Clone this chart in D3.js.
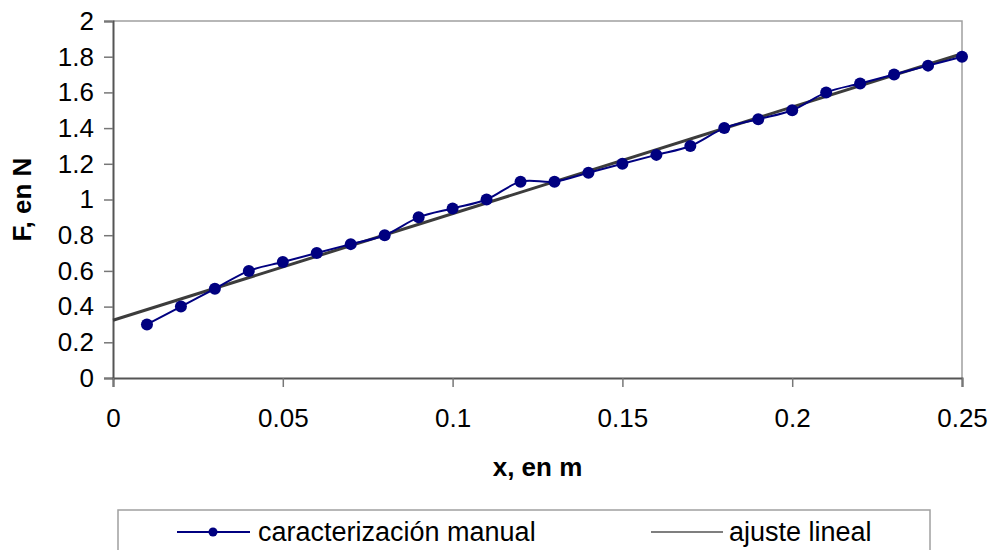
<!DOCTYPE html>
<html>
<head>
<meta charset="utf-8">
<script src="https://cdn.jsdelivr.net/npm/d3@7"></script>
<style>
  html, body { margin: 0; padding: 0; background: #fff; }
  svg { display: block; font-family: "Liberation Sans", Arial, sans-serif; }
</style>
</head>
<body>
<svg id="chart" width="992" height="550"></svg>
<script>
// Measured displacement (m) and force (N)
const xValues = [0.01, 0.02, 0.03, 0.04, 0.05, 0.06, 0.07, 0.08, 0.09, 0.10,
                 0.11, 0.12, 0.13, 0.14, 0.15, 0.16, 0.17, 0.18, 0.19, 0.20,
                 0.21, 0.22, 0.23, 0.24, 0.25];
const fValues = [0.30, 0.40, 0.50, 0.60, 0.65, 0.70, 0.75, 0.80, 0.90, 0.95,
                 1.00, 1.10, 1.10, 1.15, 1.20, 1.25, 1.30, 1.40, 1.45, 1.50,
                 1.60, 1.65, 1.70, 1.75, 1.80];
const xTicks = [0, 0.05, 0.1, 0.15, 0.2, 0.25];
const yTicks = [0, 0.2, 0.4, 0.6, 0.8, 1, 1.2, 1.4, 1.6, 1.8, 2];
const seriesNames = ["caracterización manual", "ajuste lineal"];
const xTitle = "x, en m";
const yTitle = "F, en N";

const points = xValues.map((x, i) => ({ x, y: fValues[i] }));

// Least-squares trend line over the measurements
const mx = d3.mean(xValues), my = d3.mean(fValues);
const sxy = d3.sum(points, p => (p.x - mx) * (p.y - my));
const sxx = d3.sum(points, p => (p.x - mx) ** 2);
const slope = sxy / sxx;
const intercept = my - slope * mx;
const fitX = d3.extent(xTicks);
const fitPoints = fitX.map(x => ({ x, y: intercept + slope * x }));

const plot = { left: 113, right: 962, top: 21, bottom: 378 };
const svg = d3.select("#chart");

const x = d3.scaleLinear().domain([0, 0.25]).range([plot.left, plot.right]);
const y = d3.scaleLinear().domain([0, 2]).range([plot.bottom, plot.top]);
const fmt = d => String(+d.toFixed(2));

// Plot-area frame (top and right edges)
svg.append("path")
  .attr("d", `M${plot.left},${plot.top}H${plot.right}V${plot.bottom}`)
  .attr("fill", "none").attr("stroke", "#a0a0a0").attr("stroke-width", 1.5);

// Y axis
const yAxis = svg.append("g")
  .attr("transform", `translate(${plot.left},0)`)
  .call(d3.axisLeft(y).tickValues(yTicks).tickSize(9).tickPadding(10).tickFormat(fmt));
// X axis
const xAxis = svg.append("g")
  .attr("transform", `translate(0,${plot.bottom})`)
  .call(d3.axisBottom(x).tickValues(xTicks).tickSize(9).tickPadding(22).tickFormat(fmt));

[yAxis, xAxis].forEach(g => {
  g.select(".domain").attr("stroke", "#555").attr("stroke-width", 2);
  g.selectAll(".tick line").attr("stroke", "#777").attr("stroke-width", 1.5);
  g.selectAll(".tick text")
    .attr("fill", "#000")
    .style("font-size", "26px")
    .style("font-family", "'Liberation Sans', Arial, sans-serif");
});

// Axis titles
svg.append("text")
  .attr("x", (plot.left + plot.right) / 2).attr("y", 476)
  .attr("text-anchor", "middle")
  .style("font-size", "26px").style("font-weight", "bold")
  .text(xTitle);
svg.append("text")
  .attr("transform", `translate(31,${(plot.top + plot.bottom) / 2}) rotate(-90)`)
  .attr("text-anchor", "middle")
  .style("font-size", "26px").style("font-weight", "bold")
  .text(yTitle);

// Fitted straight line
svg.append("path")
  .datum(fitPoints)
  .attr("d", d3.line().x(d => x(d.x)).y(d => y(d.y)))
  .attr("fill", "none").attr("stroke", "#3c3c3c").attr("stroke-width", 3);

// Measured series: smoothed line with markers
svg.append("path")
  .datum(points)
  .attr("d", d3.line().x(d => x(d.x)).y(d => y(d.y)).curve(d3.curveCardinal.tension(0)))
  .attr("fill", "none").attr("stroke", "#000080").attr("stroke-width", 2);
svg.append("g").selectAll("circle")
  .data(points).join("circle")
  .attr("cx", d => x(d.x)).attr("cy", d => y(d.y))
  .attr("r", 6).attr("fill", "#000080");

// Legend
const legend = svg.append("g");
legend.append("rect")
  .attr("x", 118).attr("y", 510).attr("width", 812).attr("height", 60)
  .attr("fill", "#fff").attr("stroke", "#a0a0a0").attr("stroke-width", 1.5);
const ly = 532;
legend.append("line")
  .attr("x1", 177).attr("x2", 250).attr("y1", ly).attr("y2", ly)
  .attr("stroke", "#000080").attr("stroke-width", 2);
legend.append("circle").attr("cx", 213).attr("cy", ly).attr("r", 4.5).attr("fill", "#000080");
legend.append("text").attr("x", 258).attr("y", 541)
  .style("font-size", "27px").text(seriesNames[0]);
legend.append("line")
  .attr("x1", 651).attr("x2", 723).attr("y1", ly).attr("y2", ly)
  .attr("stroke", "#555").attr("stroke-width", 1.5);
legend.append("text").attr("x", 729).attr("y", 541)
  .style("font-size", "27px").text(seriesNames[1]);
</script>
</body>
</html>
